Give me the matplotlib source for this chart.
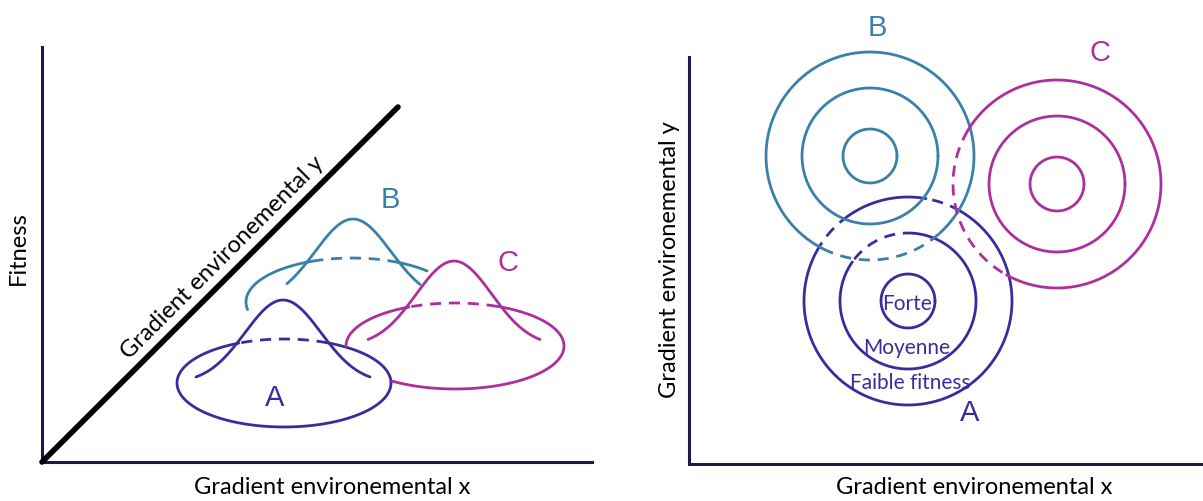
import numpy as np
import matplotlib
matplotlib.use("Agg")
import matplotlib.pyplot as plt

# Colours of the three populations
col_a = "#3b2c9c"
col_b = "#3a80a8"
col_c = "#ad2f9c"
col_axis = "#1c1a48"

# Left panel: fitness surfaces (ellipse base + bell curve), in pixel units
left_names = ["A", "B", "C"]
left_cx = [284, 352, 455]
left_cy = [384, 303, 347]
left_a = [107, 106, 109]
left_b = [44, 44, 43]
bell_cx = [283, 353, 454]
bell_h = [83, 83, 85]
bell_sigma = [38, 38, 38]
bell_half = [87, 87, 86]
bell_visible = [None, (287, 420), None]
# visible angular range of the base ellipse and its hidden (dashed) part, degrees
ell_visible = [(0, 360), (45, 190), (-125, 180)]
ell_dashed = [(66, 115), (64, 112), (67, 115)]
left_label_xy = [(275, 398), (390, 200), (508, 263)]

# Right panel: fitness contours (Forte / Moyenne / Faible fitness)
right_names = ["A", "B", "C"]
right_cx = [908, 870, 1057]
right_cy = [302, 157, 185]
ring_r = [27, 68, 104]
# dashed arcs per population, per ring (inner, middle, outer)
right_dashed = [
    [[], [(85, 145)], [(60, 80), (125, 149)]],
    [[], [], [(-117, -48)]],
    [[], [], [(149, 241)]],
]
right_label_xy = [(970, 413), (877, 28), (1100, 53)]
ring_text = ["Forte", "Moyenne", "Faible fitness"]
ring_text_xy = [(907, 304), (907, 348), (910, 383)]

colors = [col_a, col_b, col_c]
LW = 2.0
DASH = (0, (4, 2.8))

plt.rcParams['font.family'] = ['Lato', 'DejaVu Sans']

fig = plt.figure(figsize=(12.03, 5.02), dpi=100)
ax = fig.add_axes([0, 0, 1, 1])
ax.set_xlim(0, 1203)
ax.set_ylim(502, 0)
ax.axis("off")


def ell_pts(cx, cy, a, b, t0, t1):
    t = np.radians(np.linspace(t0, t1, 200))
    return cx + a * np.cos(t), cy - b * np.sin(t)


def draw_arc(cx, cy, a, b, vis, dashed, color):
    # split visible range into solid / dashed pieces
    start = vis[0]
    pieces = []
    for d0, d1 in sorted(dashed):
        if d0 > start:
            pieces.append((start, d0, "-"))
        pieces.append((d0, d1, DASH))
        start = d1
    if start < vis[1]:
        pieces.append((start, vis[1], "-"))
    for t0, t1, ls in pieces:
        x, y = ell_pts(cx, cy, a, b, t0, t1)
        ax.plot(x, y, color=color, lw=LW, ls=ls, solid_capstyle="round",
                solid_joinstyle="round")


# ---- left panel ----
ax.plot([42, 42], [48, 463], color=col_axis, lw=2.2)
ax.plot([42, 592], [463, 463], color=col_axis, lw=2.2)
ax.plot([42, 398], [463, 108], color="black", lw=4.0, solid_capstyle="round")

for i in range(3):
    draw_arc(left_cx[i], left_cy[i], left_a[i], left_b[i],
             ell_visible[i], [ell_dashed[i]], colors[i])
    if bell_visible[i] is None:
        x = np.linspace(bell_cx[i] - bell_half[i], bell_cx[i] + bell_half[i], 200)
    else:
        x = np.linspace(bell_visible[i][0], bell_visible[i][1], 200)
    y = left_cy[i] - bell_h[i] * np.exp(-(x - bell_cx[i]) ** 2 / (2 * bell_sigma[i] ** 2))
    ax.plot(x, y, color=colors[i], lw=LW, solid_capstyle="round")
    ax.text(left_label_xy[i][0], left_label_xy[i][1], left_names[i], color=colors[i],
            fontsize=21, ha="center", va="center", family="Liberation Sans")

ax.text(18, 248, "Fitness", rotation=90, fontsize=17, ha="center", va="center")
ax.text(332, 488, "Gradient environemental x", fontsize=17, ha="center", va="center")
ax.text(222, 258, "Gradient environemental y", rotation=45, fontsize=17,
        ha="center", va="center", rotation_mode="anchor")

# ---- right panel ----
ax.plot([689, 689], [58, 465], color=col_axis, lw=2.2)
ax.plot([689, 1203], [465, 465], color=col_axis, lw=2.2)

for i in range(3):
    for k, r in enumerate(ring_r):
        dashed = right_dashed[i][k]
        if dashed:
            d0 = min(d[0] for d in dashed)
        else:
            d0 = 0
        draw_arc(right_cx[i], right_cy[i], r, r, (d0, d0 + 360), dashed, colors[i])
    ax.text(right_label_xy[i][0], right_label_xy[i][1], right_names[i], color=colors[i],
            fontsize=21, ha="center", va="center", family="Liberation Sans")

for txt, (tx, ty) in zip(ring_text, ring_text_xy):
    ax.text(tx, ty, txt, color=col_a, fontsize=15, ha="center", va="center")

ax.text(669, 260, "Gradient environemental y", rotation=90, fontsize=17, ha="center", va="center")
ax.text(974, 488, "Gradient environemental x", fontsize=17, ha="center", va="center")

fig.savefig("out.png", dpi=100)
